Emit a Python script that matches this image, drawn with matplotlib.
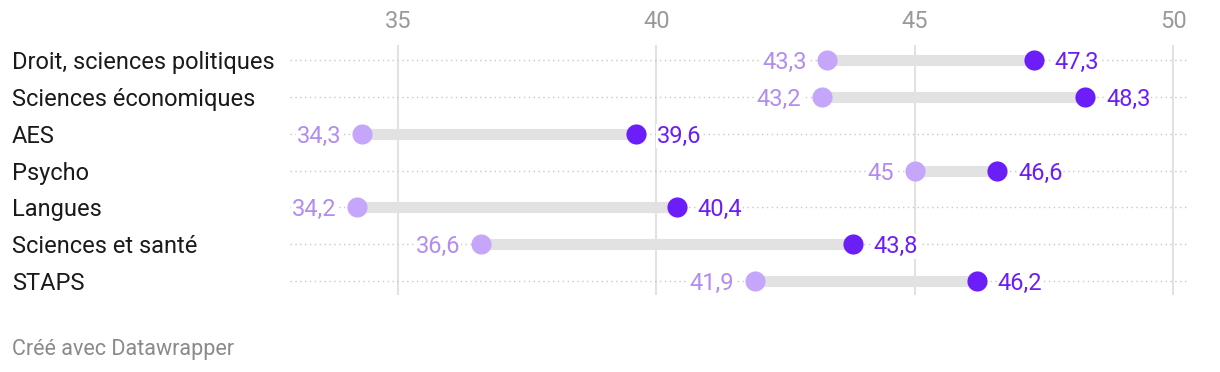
import matplotlib.pyplot as plt
from matplotlib.transforms import offset_copy

plt.rcParams['font.family'] = ['Roboto', 'DejaVu Sans']

# donnees
categories = ['Droit, sciences politiques', 'Sciences économiques', 'AES', 'Psycho',
              'Langues', 'Sciences et santé', 'STAPS']
val_avant = [43.3, 43.2, 34.3, 45.0, 34.2, 36.6, 41.9]
val_apres = [47.3, 48.3, 39.6, 46.6, 40.4, 43.8, 46.2]
ticks = [35, 40, 45, 50]

c_light = '#c5a6fb'
c_light_txt = '#b28cf0'
c_dark = '#6b1ef8'
c_grid = '#e2e2e2'

fig = plt.figure(figsize=(12.2, 3.72), dpi=100)
ax = fig.add_axes([290 / 1220, 1 - 295 / 372, (1187 - 290) / 1220, (295 - 45) / 372])
ax.set_xlim(32.91, 50.27)
ax.set_ylim(6.38, -0.41)

def fmt(v):
    s = ('%.1f' % v).replace('.', ',')
    return s[:-2] if s.endswith(',0') else s

for x in ticks:
    ax.axvline(x, color=c_grid, lw=1.5, zorder=0)

tl = offset_copy(ax.transData, fig=fig, x=-14.5, y=0, units='points')
tr = offset_copy(ax.transData, fig=fig, x=15, y=0, units='points')

for i, (a, b) in enumerate(zip(val_avant, val_apres)):
    ax.plot([32.91, 50.27], [i, i], color='#c8c8c8', lw=1, ls=(0, (1, 2.5)), zorder=1)
    ax.plot([a, b], [i, i], color=c_grid, lw=8, solid_capstyle='butt', zorder=2)
    ax.plot(a, i, 'o', ms=14.5, color=c_light, mec='none', zorder=3)
    ax.plot(b, i, 'o', ms=14.5, color=c_dark, mec='none', zorder=3)
    ax.text(a, i, fmt(a), transform=tl, ha='right', va='center_baseline',
            fontsize=17, color=c_light_txt,
            bbox=dict(fc='white', ec='none', pad=0.5), zorder=2.5)
    ax.text(b, i, fmt(b), transform=tr, ha='left', va='center_baseline',
            fontsize=17, color=c_dark,
            bbox=dict(fc='white', ec='none', pad=0.5), zorder=2.5)

ax.set_yticks([])
for i, c in enumerate(categories):
    ax.annotate(c, xy=(12 / 1220, i), xycoords=('figure fraction', 'data'),
                ha='left', va='center_baseline', fontsize=17, color='#1a1a1a')

ax.set_xticks(ticks)
ax.set_xticklabels([str(t) for t in ticks], fontsize=17, color='#9a9a9a')
ax.xaxis.tick_top()
ax.tick_params(axis='both', length=0)
ax.tick_params(axis='x', pad=9)
for s in ax.spines.values():
    s.set_visible(False)

fig.text(12 / 1220, 1 - 349 / 372, 'Créé avec Datawrapper', fontsize=15.5,
         color='#8a8a8a', va='center')

fig.savefig('out.png', dpi=100)
